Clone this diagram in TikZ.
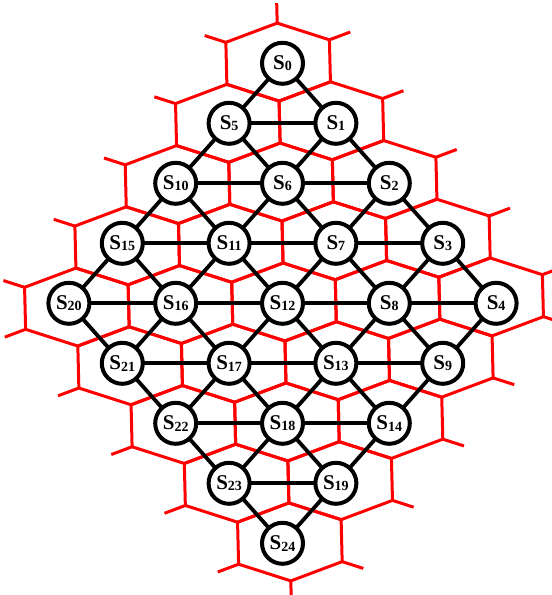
\documentclass[tikz,border=0pt]{standalone}
\usepackage{fontspec}
\setmainfont{Liberation Serif}
\pgfdeclarelayer{redlayer}
\pgfdeclarelayer{linklayer}
\pgfsetlayers{redlayer,linklayer,main}
\begin{document}
\begin{tikzpicture}[x=1pt,y=1pt,
  hexline/.style={draw=red, line width=3pt, line join=miter},
  conn/.style={draw=black, line width=3.8pt},
  snode/.style={circle, draw=black, line width=4pt, fill=white,
    minimum size=41pt, inner sep=0pt, font=\fontsize{21}{21}\selectfont\bfseries}
]
\useasboundingbox (0,0) rectangle (552,595);
% red hexagonal tiling
\begin{pgfonlayer}{redlayer}
\begin{scope}[rotate around={1.4:(284,293)}]
\foreach \i in {0,...,4} {
  \foreach \j in {0,...,4} {
    \pgfmathsetmacro{\cx}{284+(\j-\i)*51.8}
    \pgfmathsetmacro{\cy}{293+(4-\i-\j)*60}
    \draw[hexline] (\cx,\cy+39) -- ++(51.8,-18) -- ++(0,-42) -- ++(-51.8,-18)
      -- ++(-51.8,18) -- ++(0,42) -- cycle;
  }
}
% stubs
\draw[hexline] (284,572) -- ++(0,20);
\draw[hexline] (284,14) -- ++(0,-20);
\foreach \k in {0,...,4} {
  \pgfmathsetmacro{\cx}{284+\k*51.8}
  \pgfmathsetmacro{\cy}{293+(4-\k)*60}
  \draw[hexline] (\cx+51.8,\cy+21) -- ++(21,7.3);
  \pgfmathsetmacro{\dx}{284-\k*51.8}
  \draw[hexline] (\dx-51.8,\cy+21) -- ++(-21,7.3);
  \pgfmathsetmacro{\ex}{284+(4-\k)*51.8}
  \pgfmathsetmacro{\ey}{293-\k*60}
  \draw[hexline] (\ex+51.8,\ey-21) -- ++(21,-7.3);
  \pgfmathsetmacro{\fx}{284+(\k-4)*51.8}
  \draw[hexline] (\fx-51.8,\ey-21) -- ++(-21,-7.3);
}
\end{scope}
\end{pgfonlayer}
% nodes
\foreach \i in {0,...,4} {
  \foreach \j in {0,...,4} {
    \pgfmathtruncatemacro{\k}{5*\i+\j}
    \pgfmathsetmacro{\nx}{282.5+(\j-\i)*53.4}
    \pgfmathsetmacro{\ny}{531.7-(\i+\j)*60}
    \node[snode] (s\k) at (\nx,\ny) {S\raisebox{-1.5pt}{\fontsize{14}{14}\selectfont\bfseries \k}};
  }
}
% connectors
\begin{pgfonlayer}{linklayer}
\foreach \i in {0,...,4} {
  \foreach \j in {0,...,4} {
    \pgfmathtruncatemacro{\k}{5*\i+\j}
    \pgfmathtruncatemacro{\r}{\k+1}
    \pgfmathtruncatemacro{\d}{\k+5}
    \ifnum\j<4 \draw[conn] (s\k.center) -- (s\r.center); \fi
    \ifnum\i<4 \draw[conn] (s\k.center) -- (s\d.center); \fi
    \ifnum\i<4 \ifnum\j<4 \draw[conn] (s\r.center) -- (s\d.center); \fi\fi
  }
}
\end{pgfonlayer}
\end{tikzpicture}
\end{document}
